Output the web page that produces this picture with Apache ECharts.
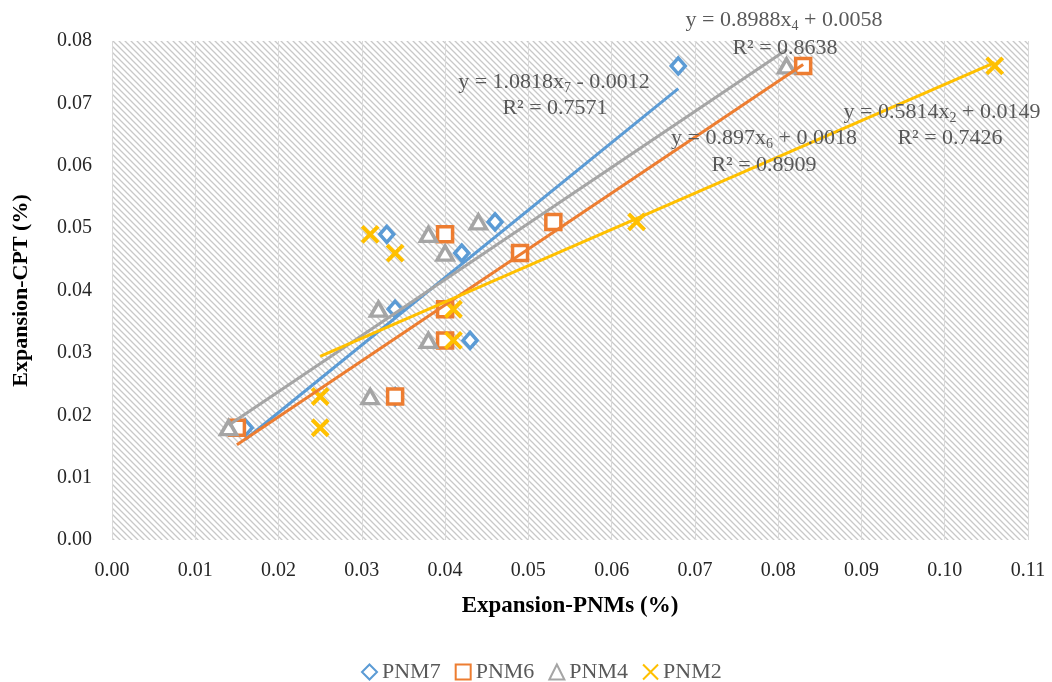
<!DOCTYPE html>
<html>
<head>
<meta charset="utf-8">
<script src="https://cdn.jsdelivr.net/npm/echarts@6/dist/echarts.min.js"></script>
<style>
html,body{margin:0;padding:0;background:#fff;}
#chart{width:1052px;height:682px;}
</style>
</head>
<body>
<div id="chart"></div>
<script>
// ---- data ----
const seriesNames = ['PNM7', 'PNM6', 'PNM4', 'PNM2'];
const pnm7X = [0.068, 0.046, 0.042, 0.033, 0.034, 0.043, 0.034, 0.016];
const pnm7Y = [0.076, 0.051, 0.046, 0.049, 0.037, 0.032, 0.023, 0.018];
const pnm6X = [0.083, 0.053, 0.049, 0.040, 0.040, 0.040, 0.034, 0.015];
const pnm6Y = [0.076, 0.051, 0.046, 0.049, 0.037, 0.032, 0.023, 0.018];
const pnm4X = [0.081, 0.044, 0.040, 0.038, 0.032, 0.038, 0.031, 0.014];
const pnm4Y = [0.076, 0.051, 0.046, 0.049, 0.037, 0.032, 0.023, 0.018];
const pnm2X = [0.106, 0.063, 0.031, 0.034, 0.041, 0.041, 0.025, 0.025];
const pnm2Y = [0.076, 0.051, 0.049, 0.046, 0.037, 0.032, 0.023, 0.018];
// trendline coefficients as printed on the chart
const slopes = [1.0818, 0.897, 0.8988, 0.5814];
const intercepts = [-0.0012, 0.0018, 0.0058, 0.0149];
const subs = ['7', '6', '4', '2'];
const r2 = ['0.7571', '0.8909', '0.8638', '0.7426'];
const xTicks = [0, 0.01, 0.02, 0.03, 0.04, 0.05, 0.06, 0.07, 0.08, 0.09, 0.10, 0.11];
const yTicks = [0, 0.01, 0.02, 0.03, 0.04, 0.05, 0.06, 0.07, 0.08];

// ---- styles ----
const colors = ['#5B9BD5', '#ED7D31', '#A5A5A5', '#FFC000'];
const FONT = '"Liberation Serif", "Times New Roman", serif';
const xsList = [pnm7X, pnm6X, pnm4X, pnm2X];
const ysList = [pnm7Y, pnm6Y, pnm4Y, pnm2Y];
const symbols = ['diamond', 'rect', 'triangle', 'path://M0,0L10,10M10,0L0,10'];
const symSizes = [[14, 16], 15, [16, 14], 16];

// hatch pattern
const pc = document.createElement('canvas');
pc.width = 6; pc.height = 6;
const g = pc.getContext('2d');
g.fillStyle = '#ffffff'; g.fillRect(0, 0, 6, 6);
g.strokeStyle = '#c8c8c8'; g.lineWidth = 1.3;
g.beginPath();
g.moveTo(-1, -1); g.lineTo(7, 7);
g.moveTo(-1, 5); g.lineTo(1, 7);
g.moveTo(5, -1); g.lineTo(7, 1);
g.stroke();

const chart = echarts.init(document.getElementById('chart'), null, {renderer: 'canvas'});

const series = [];
seriesNames.forEach((name, i) => {
  series.push({
    name: name,
    type: 'scatter',
    symbol: symbols[i],
    symbolSize: symSizes[i],
    z: 3,
    itemStyle: {
      color: i === 3 ? 'rgba(0,0,0,0)' : '#ffffff',
      borderColor: colors[i],
      borderWidth: i === 3 ? 4 : 3.5,
      opacity: 1
    },
    data: xsList[i].map((x, k) => [x, ysList[i][k]])
  });
});
seriesNames.forEach((name, i) => {
  const xmin = Math.min(...xsList[i]);
  const xmax = Math.max(...xsList[i]);
  series.push({
    name: name + ' trend',
    type: 'line',
    showSymbol: false,
    silent: true,
    z: 4,
    lineStyle: {color: colors[i], width: 3},
    data: [[xmin, slopes[i] * xmin + intercepts[i]], [xmax, slopes[i] * xmax + intercepts[i]]]
  });
});

// annotation positions (centre x, y of equation line)
const annPos = [[554, 82], [764, 138], [784, 20], [942, 112]];
const r2Pos = [[555, 108], [764, 165], [785, 48], [950, 138]];
const graphics = [];
seriesNames.forEach((n, i) => {
  const sign = intercepts[i] < 0 ? ' - ' : ' + ';
  const slopeTxt = i === 1 ? '0.897' : slopes[i].toFixed(4);
  graphics.push({
    type: 'text',
    x: annPos[i][0], y: annPos[i][1],
    z: 100,
    style: {
      text: '{n|y = ' + slopeTxt + 'x}{s|' + subs[i] + '}{n|' + sign + Math.abs(intercepts[i]).toFixed(4) + '}',
      align: 'center', verticalAlign: 'middle',
      rich: {
        n: {fontSize: 22, fontFamily: FONT, fill: '#595959', lineHeight: 26, verticalAlign: 'middle'},
        s: {fontSize: 14, fontFamily: FONT, fill: '#595959', lineHeight: 26, verticalAlign: 'bottom'}
      }
    }
  });
  graphics.push({
    type: 'text',
    x: r2Pos[i][0], y: r2Pos[i][1],
    z: 100,
    style: {
      text: 'R² = ' + r2[i],
      align: 'center', verticalAlign: 'middle',
      fontSize: 22, fontFamily: FONT, fill: '#595959'
    }
  });
});

chart.setOption({
  animation: false,
  backgroundColor: '#ffffff',
  textStyle: {fontFamily: FONT},
  grid: {
    left: 112, right: 24, top: 41, bottom: 142,
    show: true,
    backgroundColor: {image: pc, repeat: 'repeat'},
    borderWidth: 0
  },
  legend: {
    data: seriesNames,
    top: 656,
    left: 356,
    itemWidth: 15, itemHeight: 15,
    itemGap: 14,
    textStyle: {fontSize: 22, color: '#595959', fontFamily: FONT}
  },
  xAxis: {
    type: 'value',
    min: xTicks[0], max: xTicks[xTicks.length - 1], interval: 0.01,
    name: 'Expansion-PNMs (%)',
    nameLocation: 'middle',
    nameGap: 55,
    nameTextStyle: {fontSize: 23, fontWeight: 'bold', color: '#000', fontFamily: FONT},
    axisLine: {show: false},
    axisTick: {show: false},
    axisLabel: {fontSize: 20, color: '#262626', margin: 21, fontFamily: FONT,
      formatter: v => v.toFixed(2)},
    splitLine: {show: true, lineStyle: {color: '#d9d9d9', width: 1}}
  },
  yAxis: {
    type: 'value',
    min: yTicks[0], max: yTicks[yTicks.length - 1], interval: 0.01,
    name: 'Expansion-CPT (%)',
    nameLocation: 'middle',
    nameRotate: 90,
    nameGap: 80,
    nameTextStyle: {fontSize: 22, fontWeight: 'bold', color: '#000', fontFamily: FONT},
    axisLine: {show: false},
    axisTick: {show: false},
    axisLabel: {fontSize: 20, color: '#262626', margin: 20, fontFamily: FONT,
      formatter: v => v.toFixed(2)},
    splitLine: {show: false}
  },
  graphic: graphics,
  series: series
});
</script>
</body>
</html>
